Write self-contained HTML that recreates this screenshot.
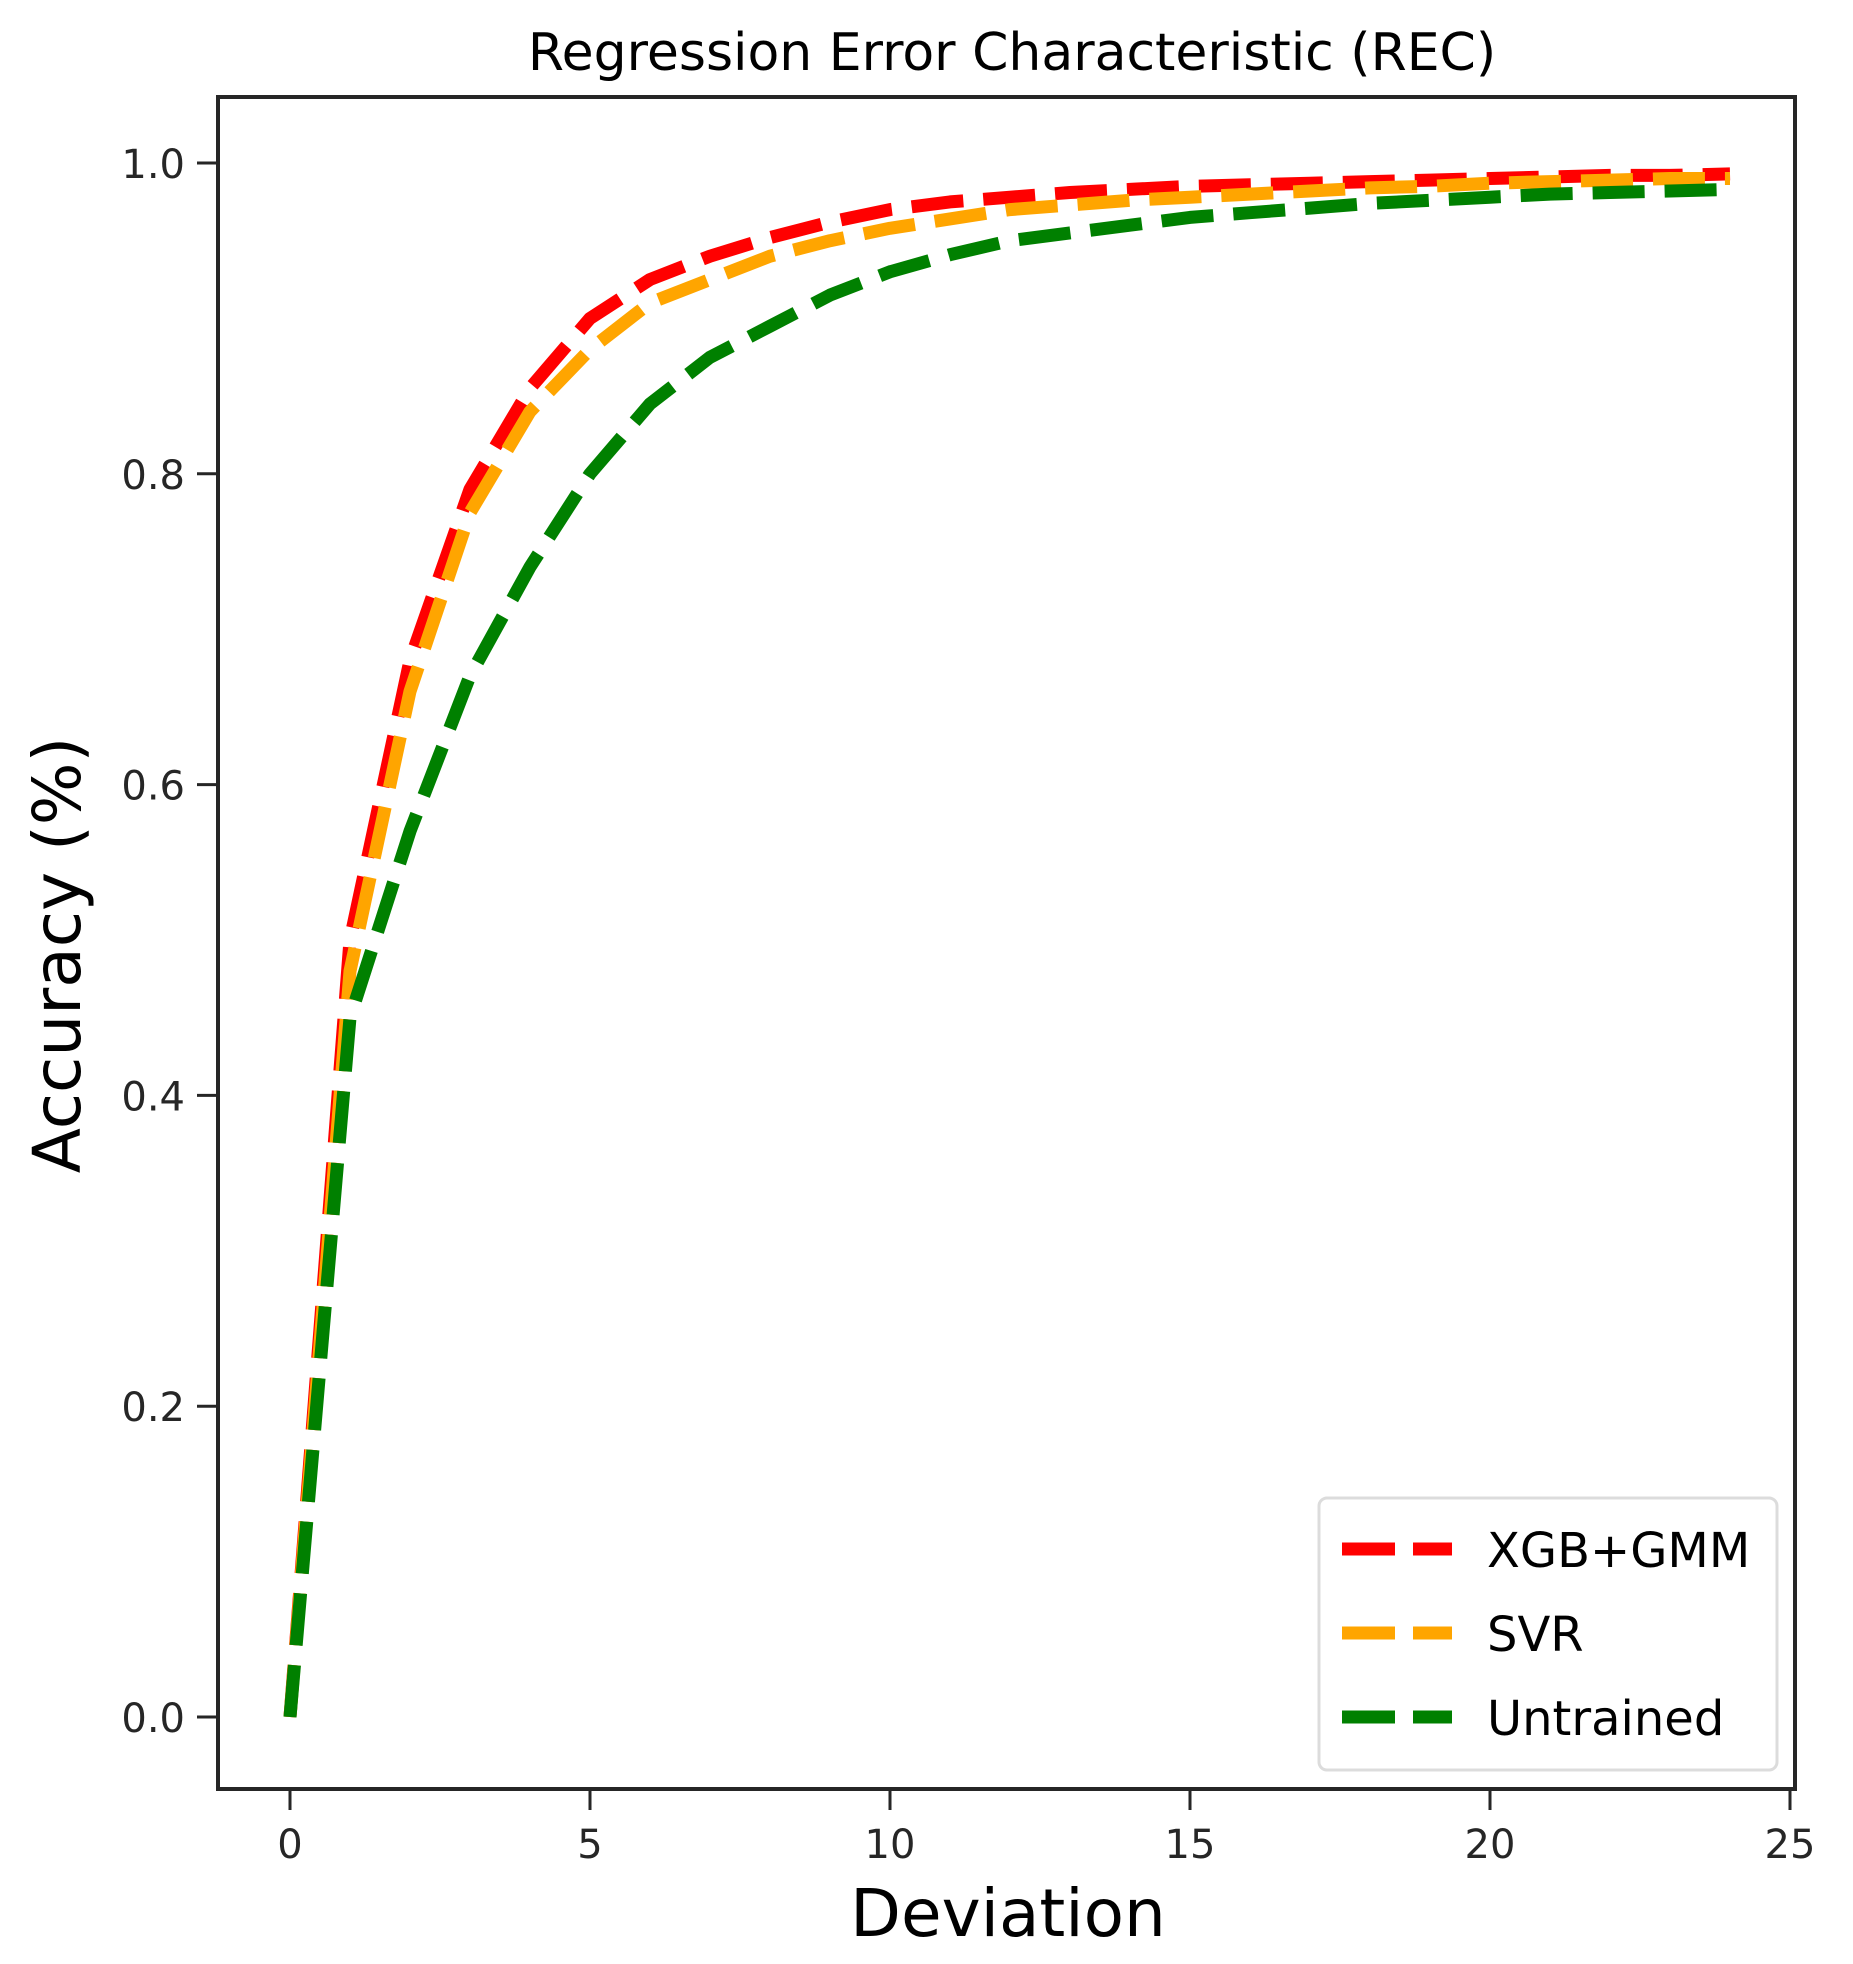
<!DOCTYPE html>
<html><head><meta charset="utf-8"><style>
html,body{margin:0;padding:0;background:#fff;}
svg{display:block;font-family:"DejaVu Sans","Liberation Sans",sans-serif;}
</style></head><body>
<svg id="chart" width="1853" height="1964" viewBox="0 0 1853 1964" xmlns="http://www.w3.org/2000/svg">
<text x="1012" y="70" font-size="52" text-anchor="middle" fill="#000">Regression Error Characteristic (REC)</text>
<g id="plot"></g>
<rect x="218" y="97" width="1577" height="1692" fill="none" stroke="#262626" stroke-width="4"/>
<g id="xticks"></g>
<g id="yticks"></g>
<text x="1008" y="1936" font-size="66" text-anchor="middle" fill="#000">Deviation</text>
<text x="0" y="0" font-size="66" text-anchor="middle" fill="#000" transform="translate(80,955) rotate(-90)">Accuracy (%)</text>
<g id="legend">
<rect x="1319" y="1498" width="458" height="272" rx="8" fill="#fff" stroke="#d9d9d9" stroke-width="3" opacity="0.9"/>
</g>
</svg>
<script>
const xs = [0,1,2,3,4,5,6,7,8,9,10,11,12,13,14,15,16,17,18,19,20,21,22,23,24];
const xgbValues = [0,0.50,0.68,0.79,0.855,0.90,0.925,0.94,0.952,0.962,0.97,0.975,0.978,0.981,0.983,0.985,0.986,0.987,0.988,0.989,0.990,0.991,0.992,0.992,0.993];
const svrValues = [0,0.48,0.66,0.775,0.84,0.88,0.91,0.925,0.94,0.95,0.958,0.964,0.97,0.973,0.976,0.978,0.980,0.982,0.984,0.985,0.987,0.988,0.989,0.990,0.990];
const untrainedValues = [0,0.45,0.57,0.67,0.74,0.80,0.845,0.875,0.895,0.915,0.93,0.941,0.95,0.955,0.96,0.965,0.968,0.971,0.974,0.976,0.978,0.980,0.981,0.982,0.983];
const seriesNames = ["XGB+GMM","SVR","Untrained"];
const seriesColors = ["#ff0000","#ffa500","#008000"];
const xTickVals = [0,5,10,15,20,25];
const yTickVals = [0,0.2,0.4,0.6,0.8,1.0];
const yTickLabels = ["0.0","0.2","0.4","0.6","0.8","1.0"];

const NS="http://www.w3.org/2000/svg";
function sx(v){return 290+v*60;}
function sy(v){return 1717-v*1554;}
function mk(tag,attrs,parent){const e=document.createElementNS(NS,tag);for(const k in attrs)e.setAttribute(k,attrs[k]);parent.appendChild(e);return e;}

const plot=document.getElementById('plot');
const allSeries=[xgbValues,svrValues,untrainedValues];
const keys=["xgb-gmm","svr","untrained"];
allSeries.forEach((vals,i)=>{
  const d=vals.map((v,j)=>(j?'L':'M')+sx(xs[j]).toFixed(1)+' '+sy(v).toFixed(1)).join(' ');
  const p=mk('path',{d:d,fill:'none',stroke:seriesColors[i],'stroke-width':13,'stroke-dasharray':'52 20','stroke-linejoin':'round'},plot);
  
  
});

const xg=document.getElementById('xticks');
xTickVals.forEach(v=>{
  const l=mk('line',{x1:sx(v),x2:sx(v),y1:1789,y2:1810,stroke:'#262626','stroke-width':3},xg);
  
  
  const t=mk('text',{x:sx(v),y:1858,'font-size':40,'text-anchor':'middle',fill:'#262626'},xg);
  t.textContent=String(v);
  
  
});
const yg=document.getElementById('yticks');
yTickVals.forEach((v,i)=>{
  const l=mk('line',{x1:197,x2:218,y1:sy(v),y2:sy(v),stroke:'#262626','stroke-width':3},yg);
  
  
  const t=mk('text',{x:185,y:sy(v)+15,'font-size':40,'text-anchor':'end',fill:'#262626'},yg);
  t.textContent=yTickLabels[i];
  
  
});

const lg=document.getElementById('legend');
const ly=[1549,1633,1717];
seriesNames.forEach((n,i)=>{
  const h=mk('line',{x1:1342,x2:1452,y1:ly[i],y2:ly[i],stroke:seriesColors[i],'stroke-width':13,'stroke-dasharray':'53 18'},lg);
  
  
  const t=mk('text',{x:1487,y:ly[i]+18,'font-size':48,fill:'#000'},lg);
  t.textContent=n;
  
  
});
</script>
</body></html>
